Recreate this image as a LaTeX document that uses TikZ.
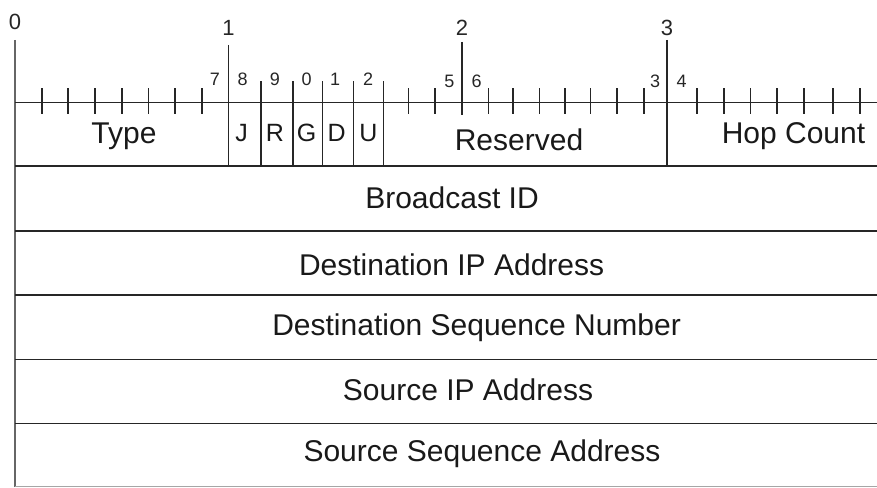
\documentclass[tikz,border=0pt]{standalone}
\usepackage{fontspec}
\setmainfont{Liberation Sans}
\usetikzlibrary{positioning}

\begin{document}
\begin{tikzpicture}[
  x=1pt, y=-1pt,
  rule/.style={line width=1.6pt, color=black!85},
  edge/.style={line width=2.2pt, color=black!60},
  field/.style={font=\fontsize{30}{30}\selectfont, anchor=base, inner sep=0pt, text=black!90},
  flag/.style={font=\fontsize{25}{25}\selectfont, anchor=base, inner sep=0pt, text=black!90},
  bitnum/.style={font=\fontsize{18}{18}\selectfont, inner sep=0pt, text=black!85},
  bignum/.style={font=\fontsize{22}{22}\selectfont, inner sep=0pt, text=black!85}
]
  \useasboundingbox (0,0) rectangle (877,487);

  %% -- word boundaries (bit 0, 8, 16, 24) ------------------------------
  \draw[edge] (15,40) -- (15,487);
  \draw[rule] (228.5,45) -- (228.5,166);
  \draw[rule] (462,42) -- (462,115);
  \draw[rule] (667,40) -- (667,166);

  %% -- bit ruler ----------------------------------------------------
  \draw[rule] (15,102.3) -- (877,102.3);
  \foreach \x in {41.7,67.7,95,121.7,148.3,175,201.7,408.3,435,488.3,512.7,539.3,565,
                  590.3,617,643.7,697,723.7,750.3,777,803.7,833,859.7}
    \draw[rule] (\x,88) -- (\x,114);
  % flag cells J R G D U
  \foreach \x in {260.7,292.7,322.3,353.3,383.3}
    \draw[rule] (\x,81) -- (\x,166);

  %% -- row separators ----------------------------------------------
  \foreach \y in {166,230.7,295,359.3,423.3}
    \draw[rule] (15,\y) -- (877,\y);
  \draw[line width=1pt, color=black!35] (15,486) -- (877,486);

  %% -- bit numbers -----------------------------------------------------
  \node[bignum] (n0) at (15,21.7)  {0};
  \node[bignum] (n1) at (228.5,27.5) {1};
  \node[bignum] (n2) at (462,28.3) {2};
  \node[bignum] (n3) at (667,28.3) {3};

  \node[bitnum] (b7)  at (215,79)    {7};
  \node[bitnum] (b8)  at (242.7,79)  {8};
  \node[bitnum] (b9)  at (275,79)    {9};
  \node[bitnum] (b10) at (306.7,79)  {0};
  \node[bitnum] (b11) at (335,79)    {1};
  \node[bitnum] (b12) at (368,79)    {2};
  \node[bitnum] (b15) at (449.3,81.7) {5};
  \node[bitnum] (b16) at (476.7,81.7) {6};
  \node[bitnum] (b23) at (655,81.7)  {3};
  \node[bitnum] (b24) at (681.7,81.7) {4};

  %% -- first word fields -----------------------------------------------
  \node[field] (type)     at (124,143.3) {Type};
  \node[flag]  (fJ)       at (241.7,141.7) {J};
  \node[flag]  (fR)       at (275,141.7) {R};
  \node[flag]  (fG)       at (306.7,141.7) {G};
  \node[flag]  (fD)       at (336.7,141.7) {D};
  \node[flag]  (fU)       at (368.3,141.7) {U};
  \node[field] (reserved) at (519,150)   {Reserved};
  \node[field] (hop)      at (793.5,143) {Hop Count};

  %% -- remaining words --------------------------------------------------
  \node[field] (bcast)   at (452,208.3)   {Broadcast ID};
  \node[field] (dstip)   at (451.6,275)   {Destination IP Address};
  \node[field] (dstseq)  at (476.6,335)   {Destination Sequence Number};
  \node[field] (srcip)   at (468,400)     {Source IP Address};
  \node[field] (srcseq)  at (482,461.7)   {Source Sequence Address};
\end{tikzpicture}
\end{document}
